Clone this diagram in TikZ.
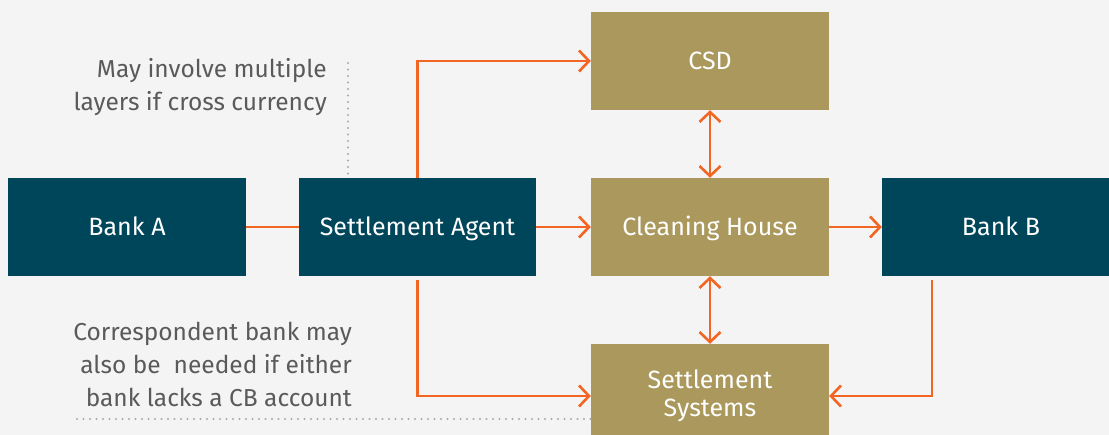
\documentclass[tikz,border=0pt]{standalone}
\usepackage{fontspec}
\setmainfont{Fira Sans}
\usetikzlibrary{arrows.meta}
\definecolor{bg}{HTML}{F4F4F4}
\definecolor{teal}{HTML}{00465B}
\definecolor{gold}{HTML}{AA985D}
\definecolor{org}{HTML}{F26522}
\definecolor{txt}{HTML}{5A5A5A}
\definecolor{dotc}{HTML}{AAAAAA}
\tikzset{
  box/.style={minimum width=238pt, minimum height=98pt, inner sep=0pt, text=white, font=\fontsize{25}{28}\selectfont, align=center},
  tealbox/.style={box, fill=teal, text height=17pt, text depth=0pt},
  goldbox/.style={box, fill=gold},
  goldone/.style={goldbox, text height=17pt, text depth=0pt},
  conn/.style={draw=org, line width=2.6pt, -{Straight Barb[length=10pt,width=21pt,line width=2.6pt]}},
  dconn/.style={conn, {Straight Barb[length=10pt,width=21pt,line width=2.6pt]}-{Straight Barb[length=10pt,width=21pt,line width=2.6pt]}},
  plain/.style={draw=org, line width=2.6pt},
  note/.style={text=txt, font=\fontsize{24.5}{33}\selectfont, align=right, inner sep=0pt},
  dots/.style={draw=dotc, line width=2.2pt, line cap=round, dash pattern=on 0pt off 6.5pt}
}
\begin{document}
\begin{tikzpicture}[x=1pt,y=-1pt]
\useasboundingbox (0,0) rectangle (1109,435);
\clip (0,0) rectangle (1109,435);
\fill[bg] (0,0) rectangle (1109,435);
\node[tealbox] (bankA) at (127,227) {Bank A};
\node[tealbox, minimum width=237pt] (agent) at (417.5,227) {Settlement Agent};
\node[goldone] (csd) at (710,61) {CSD};
\node[goldone] (ch) at (710,227) {Cleaning House};
\node[tealbox] (bankB) at (1001,227) {Bank B};
\node[goldbox, minimum height=104pt] (ss) at (710,396) {Settlement\\Systems};
% connectors
\draw[plain] (bankA.east) -- (agent.west);
\draw[conn] (agent.east) -- (ch.west);
\draw[conn] (ch.east) -- (bankB.west);
\draw[conn] (agent.north) |- (csd.west);
\coordinate (agb) at (417.5,280);
\draw[conn] (agb) |- (ss.west);
\coordinate (bbb) at (932,280);
\draw[conn] (bbb) |- (ss.east);
\draw[dconn] (csd.south) -- (ch.north);
\draw[dconn] (ch.south) -- (ss.north);
% notes
\node[note, anchor=north east] (n1) at (327,58) {May involve multiple\\layers if cross currency};
\node[note, anchor=north east] (n2) at (352,321.5) {Correspondent bank may\\also be\ \ needed if either\\bank lacks a CB account};
\coordinate (d1a) at (348,63);
\coordinate (d1b) at (348,175);
\draw[dots] (d1a) -- (d1b);
\coordinate (d2a) at (77,419);
\coordinate (d2b) at (591,419);
\draw[dots] (d2a) -- (d2b);
\end{tikzpicture}
\end{document}
